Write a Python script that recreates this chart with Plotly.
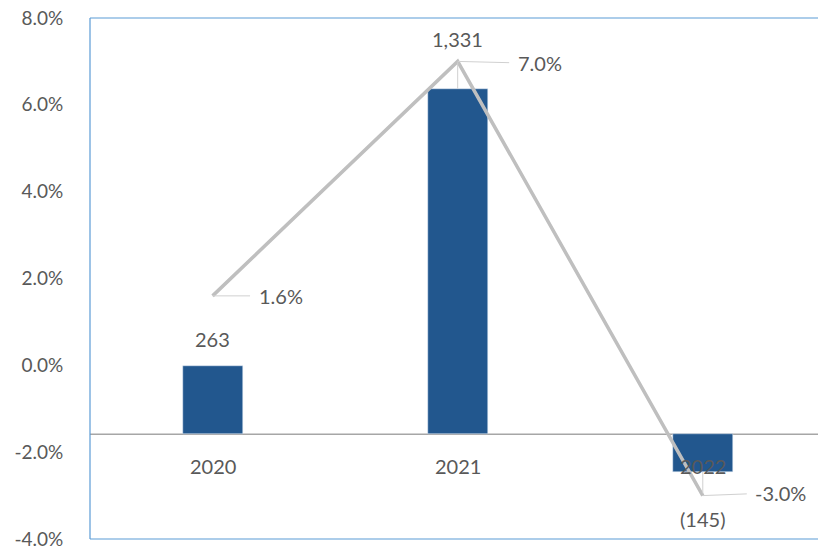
import plotly.graph_objects as go

years = ["2020", "2021", "2022"]
bar_values = [263, 1331, -145]
bar_labels = ["263", "1,331", "(145)"]
growth = [0.016, 0.070, -0.030]
growth_labels = ["1.6%", "7.0%", "-3.0%"]
pct_ticks = [-0.04, -0.02, 0.0, 0.02, 0.04, 0.06, 0.08]
pct_tick_labels = ["-4.0%", "-2.0%", "0.0%", "2.0%", "4.0%", "6.0%", "8.0%"]

BAR = "#22578e"
LINE = "#bfbfbf"
TXT = "#595959"
LEAD = "#d0d0d0"
FONT = "Lato"

fig = go.Figure()
fig.add_trace(go.Bar(x=years, y=bar_values, yaxis="y", marker_color=BAR,
                     width=0.245, hoverinfo="skip", showlegend=False))
fig.add_trace(go.Scatter(x=years, y=growth, yaxis="y2", mode="lines",
                         line=dict(color=LINE, width=3.5), showlegend=False,
                         hoverinfo="skip"))

fnt = dict(family=FONT, size=20, color=TXT)
# category labels under the zero line (x given as category index)
for i, yr in enumerate(years):
    fig.add_annotation(x=i, y=0, xref="x", yref="y", text=yr, showarrow=False,
                       yshift=-32, font=fnt)
# line labels with leader lines
offsets = [(68, 0), (82, 2), (78, -3)]
for i, (v, t, (ax, ay)) in enumerate(zip(growth, growth_labels, offsets)):
    fig.add_annotation(x=i, y=v, xref="x", yref="y2", text=t, showarrow=True,
                       arrowhead=0, arrowwidth=1, arrowcolor=LEAD,
                       startstandoff=7, ax=ax, ay=ay, font=fnt)
# bar labels
bar_ay = [-27, -50, 47]
bar_gap = [0, 10, 12]
for i, (v, t) in enumerate(zip(bar_values, bar_labels)):
    if i == 0:
        fig.add_annotation(x=i, y=v, xref="x", yref="y", text=t, showarrow=False,
                           yshift=27, font=fnt)
    else:
        fig.add_annotation(x=i, y=v, xref="x", yref="y", text=t, showarrow=True,
                           arrowhead=0, arrowwidth=1, arrowcolor=LEAD,
                           startstandoff=bar_gap[i], ax=0, ay=bar_ay[i], font=fnt)

shapes = [
    dict(type="line", xref="paper", yref="y", x0=0, x1=1, y0=0, y1=0,
         line=dict(color="#a6a6a6", width=1.5), layer="below"),
    dict(type="line", xref="paper", yref="paper", x0=0, x1=0, y0=0, y1=1,
         line=dict(color="#5b9bd5", width=1.2)),
    dict(type="line", xref="paper", yref="paper", x0=0, x1=1.01, y0=1, y1=1,
         line=dict(color="#5b9bd5", width=1.2)),
    dict(type="line", xref="paper", yref="paper", x0=0, x1=1.01, y0=0, y1=0,
         line=dict(color="#5b9bd5", width=1.2)),
]

fig.update_layout(
    width=818, height=552,
    margin=dict(l=90, r=0, t=18, b=13),
    plot_bgcolor="white", paper_bgcolor="white",
    xaxis=dict(type="category", range=[-0.5, 2.47], showticklabels=False,
               showgrid=False, zeroline=False, showline=False),
    yaxis=dict(range=[-404, 1604], showticklabels=False, ticks="",
               showgrid=False, zeroline=False, showline=False),
    yaxis2=dict(overlaying="y", side="left", range=[-0.04, 0.08],
                tickvals=pct_ticks, ticktext=pct_tick_labels, showgrid=False,
                zeroline=False, showline=False, ticks="outside", ticklen=22,
                tickcolor="rgba(0,0,0,0)",
                tickfont=dict(family=FONT, size=19, color=TXT)),
    shapes=shapes, bargap=0,
)

fig.write_html("out.html", config={"displayModeBar": False},
               post_script="document.body.style.margin='0';document.body.style.overflow='hidden';")
